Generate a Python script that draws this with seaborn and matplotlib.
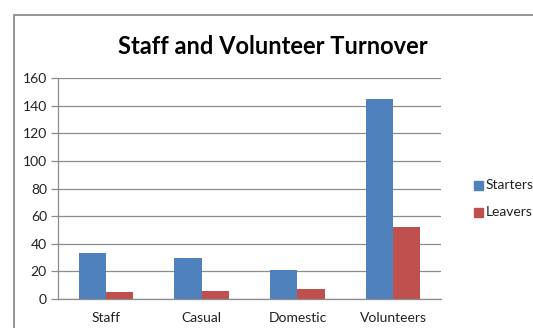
import matplotlib
matplotlib.use("Agg")
import matplotlib.pyplot as plt
from matplotlib.patches import Rectangle
import pandas as pd
import seaborn as sns

categories = ["Staff", "Casual", "Domestic", "Volunteers"]
starters = [33, 30, 21, 145]
leavers = [5, 6, 7, 52]
series_names = ["Starters", "Leavers"]
y_ticks = [0, 20, 40, 60, 80, 100, 120, 140, 160]

df = pd.DataFrame({
    "category": categories * 2,
    "value": starters + leavers,
    "series": [series_names[0]] * len(categories) + [series_names[1]] * len(categories),
})

sns.set_style("white")
plt.rcParams["font.family"] = ["Lato", "DejaVu Sans"]

W, H = 533, 328
fig = plt.figure(figsize=(W / 100, H / 100), dpi=100)
fig.patch.set_facecolor("white")

# chart frame
fig.patches.append(Rectangle((13.5 / W, -0.1), 1.2, (H - 14.5) / H + 0.1,
                             transform=fig.transFigure, fill=False,
                             edgecolor="#8c8c8c", linewidth=1.3))

ax = fig.add_axes([58 / W, 1 - 299 / H, (441 - 58) / W, (299 - 78) / H])
palette = {"Starters": "#4F81BD", "Leavers": "#C0504D"}
sns.barplot(data=df, x="category", y="value", hue="series", order=categories,
            hue_order=series_names, palette=palette, width=0.57, saturation=1,
            ax=ax, legend=False, linewidth=0, errorbar=None)

ax.set_xlim(-0.5, len(categories) - 0.5)
ax.set_ylim(0, 160)
ax.set_yticks(y_ticks)
ax.set_yticklabels([str(v) for v in y_ticks], fontsize=10, color="#222222")
ax.set_xlabel("")
ax.set_ylabel("")

ax.set_xticks(range(len(categories)))
ax.set_xticklabels(categories, fontsize=10, color="#222222")
ax.set_xticks([i - 0.5 for i in range(len(categories) + 1)], minor=True)
ax.tick_params(axis="x", which="major", length=0, pad=9)
ax.tick_params(axis="x", which="minor", length=5, width=0.9, color="#8c8c8c", direction="out")
ax.tick_params(axis="y", length=5, width=0.9, color="#8c8c8c", direction="out", pad=3, left=True)

ax.grid(axis="y", color="#8c8c8c", linewidth=0.9)
ax.set_axisbelow(True)
for side in ["top", "right"]:
    ax.spines[side].set_visible(False)
for side in ["left", "bottom"]:
    ax.spines[side].set_color("#8c8c8c")
    ax.spines[side].set_linewidth(0.9)

fig.suptitle("Staff and Volunteer Turnover", x=273 / W, y=1 - 46 / H, va="center",
             fontsize=17, fontweight="bold", color="black")

# legend
for i, name in enumerate(series_names):
    yc = 1 - (185 + 27 * i) / H
    fig.patches.append(Rectangle((474 / W, yc - 4.5 / H), 9 / W, 9 / H,
                                 transform=fig.transFigure, color=palette[name]))
    fig.text(486 / W, yc, name, fontsize=10, va="center", ha="left", color="#222222")

fig.savefig("out.png", dpi=100)
